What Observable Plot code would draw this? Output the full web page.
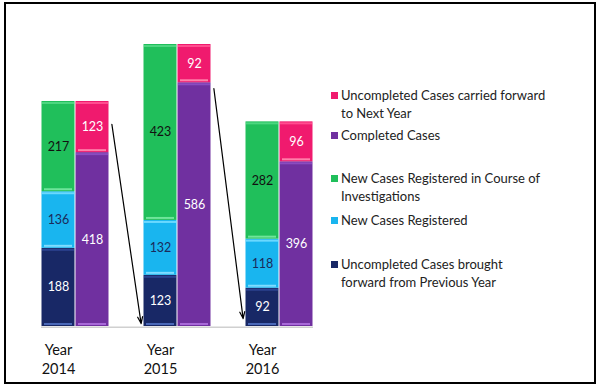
<!DOCTYPE html>
<html><head><meta charset="utf-8">
<script src="https://cdn.jsdelivr.net/npm/d3@7"></script>
<script src="https://cdn.jsdelivr.net/npm/@observablehq/plot@0.6"></script>
<style>
body{margin:0;background:#fff;}
#wrap{position:relative;width:600px;height:386px;overflow:hidden;font-family:Lato,sans-serif;}
#frame{position:absolute;left:4px;top:2px;width:592px;height:382px;border:2px solid #000;box-sizing:border-box;pointer-events:none;}
#chart{position:absolute;left:0;top:0;}
.item{position:absolute;left:331px;font-size:13px;line-height:18px;color:#222;}
.item .sw{position:absolute;left:0;top:6px;width:7px;height:7px;}
.item .tx{margin-left:10px;white-space:nowrap;}
</style></head>
<body>
<div id="wrap"><div id="chart"></div><div id="legend"></div><div id="frame"></div></div>
<script>
const years = ["2014", "2015", "2016"];
const broughtForward = [188, 123, 92];
const newRegistered = [136, 132, 118];
const newInCourse = [217, 423, 282];
const completed = [418, 586, 396];
const carriedForward = [123, 92, 96];
const arrowStart = [486, 572];
const arrowEnd = [7, 19];

const seriesNames = [
  "Uncompleted Cases carried forward to Next Year",
  "Completed Cases",
  "New Cases Registered in Course of Investigations",
  "New Cases Registered",
  "Uncompleted Cases brought forward from Previous Year"
];
const legendLines = [
  ["Uncompleted Cases carried forward", "to Next Year"],
  ["Completed Cases"],
  ["New Cases Registered in Course of", "Investigations"],
  ["New Cases Registered"],
  ["Uncompleted Cases brought", "forward from Previous Year"]
];
const colors = ["#f01a6e", "#7030a0", "#20bf5b", "#19b5ef", "#182866"];
const hiBottom = ["#ff7fa9", "#a868d8", "#6fe59a", "#7fdcff", "#4a68b8"];
const hiTop = ["#ff4d8f", "#8a4cc0", "#4cd680", "#6ad8ff", "#2c4390"];
const textColor = ["#fff", "#fff", "#111", "#1b2a5a", "#fff"];
const legendTops = [86, 126, 169, 211, 255];

// build segments
const segs = [];
years.forEach((yr, i) => {
  const left = [[4, broughtForward[i]], [3, newRegistered[i]], [2, newInCourse[i]]];
  const right = [[1, completed[i]], [0, carriedForward[i]]];
  [[left, 3 * i], [right, 3 * i + 1]].forEach(([stack, slot]) => {
    let acc = 0;
    stack.forEach(([s, v]) => {
      segs.push({x1: slot, x2: slot + 1, y1: acc, y2: acc + v, value: v, s,
        color: colors[s], hb: hiBottom[s], ht: hiTop[s], tc: textColor[s]});
      acc += v;
    });
  });
});
const arrows = arrowStart.map((a, i) => ({x1: 3 * i + 2.07, x2: 3 * (i + 1) - 0.07, y1: a, y2: arrowEnd[i]}));

const plot = Plot.plot({
  width: 600, height: 386,
  marginLeft: 0, marginRight: 0, marginTop: 0, marginBottom: 0,
  x: {type: "linear", domain: [0, 8], range: [41, 313], axis: null},
  y: {domain: [0, 678], range: [326, 44], axis: null},
  color: {type: "identity"},
  style: {background: "transparent", fontFamily: "Lato, sans-serif"},
  marks: [
    Plot.ruleY([0], {x1: 0, x2: 8, stroke: "#d0d0d0", strokeWidth: 1.5, dy: 0.8}),
    Plot.rectY(segs, {x1: "x1", x2: "x2", y1: "y1", y2: "y2", fill: "color", insetLeft: 0.5, insetRight: 0.5}),
    Plot.ruleY(segs, {y: "y1", x1: "x1", x2: "x2", stroke: "hb", strokeWidth: 2, dy: -2.5, insetLeft: 3, insetRight: 3}),
    Plot.ruleY(segs, {y: "y2", x1: "x1", x2: "x2", stroke: "ht", strokeWidth: 2, dy: 1.5, insetLeft: 1, insetRight: 1}),
    Plot.text(segs, {x: d => d.x1 + 0.5, y: d => (d.y1 + d.y2) / 2, text: d => String(d.value), fill: "tc", fontSize: 12.5}),
    Plot.arrow(arrows, {x1: "x1", y1: "y1", x2: "x2", y2: "y2", stroke: "#000", strokeWidth: 1.2, headLength: 9, headAngle: 40}),
    Plot.text(years, {x: (d, i) => 3 * i + 0.5, y: 0, text: d => "Year\n" + d, dy: 32, fontSize: 14.5, lineHeight: 1.32, fill: "#111"})
  ]
});
document.getElementById("chart").appendChild(plot);

const lg = document.getElementById("legend");
legendLines.forEach((lines, k) => {
  const div = document.createElement("div");
  div.className = "item";
  div.style.top = legendTops[k] + "px";
  div.title = seriesNames[k];
  div.innerHTML = `<span class="sw" style="background:${colors[k]}"></span><div class="tx">${lines.join("<br>")}</div>`;
  lg.appendChild(div);
});
</script>
</body></html>
